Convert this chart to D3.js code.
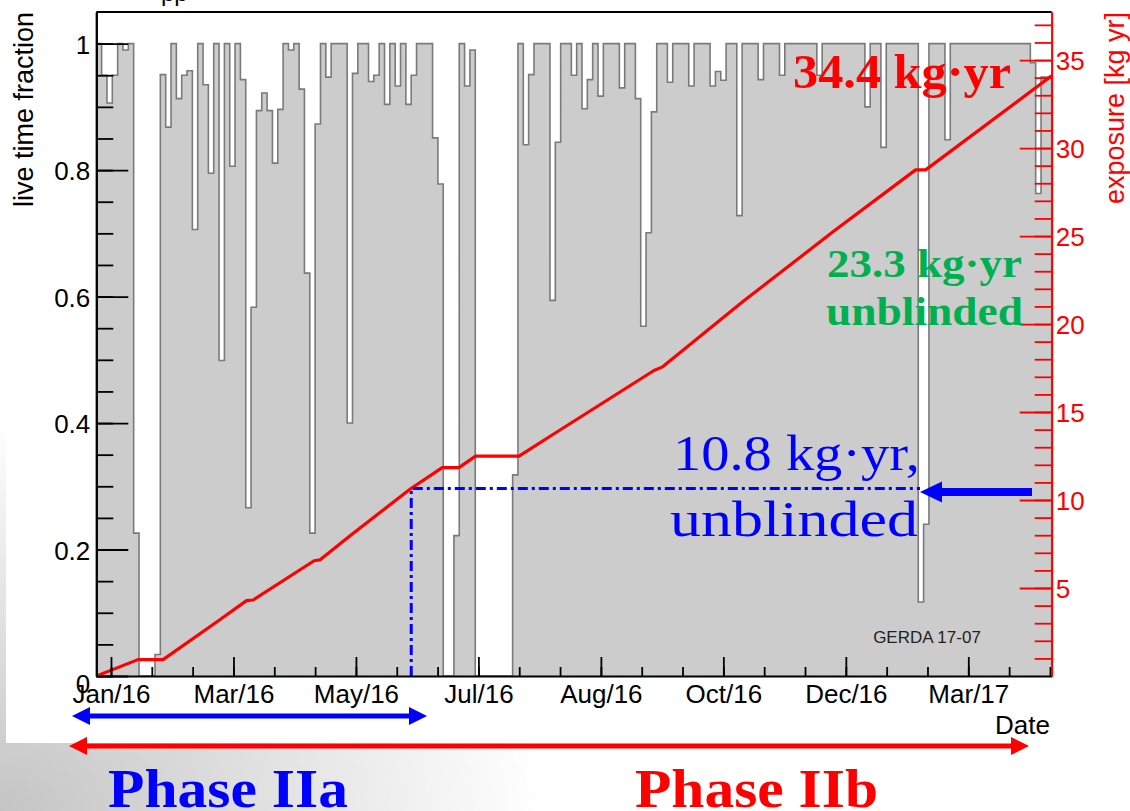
<!DOCTYPE html>
<html>
<head>
<meta charset="utf-8">
<script src="https://cdn.jsdelivr.net/npm/d3@7"></script>
<style>
	body { margin: 0; background: #fff; }
	svg { display: block; }
	text { font-family: "Liberation Sans", Arial, Helvetica, sans-serif; }
	.serif { font-family: "Liberation Serif", "Times New Roman", serif; }
</style>
</head>
<body>
<div id="chart"></div>
<script>
// canvas size
const svgWidth = 1130
const svgHeight = 811

// plot frame (ROOT pad)
let frame = { left: 96.3, right: 1051.7, top: 12, bottom: 676 }

// live time fraction, one value per bin, bins of equal width
const binStart = -7.3      // days relative to 1 Jan 2016
const binDays = 2.654
const liveFraction = [
	1.0, 0.95, 0.906, 0.95, 1.0, 0.99, 1.0, 0.226, 0, 0,
	0, 0.034, 0.951, 0.868, 1.0, 0.913, 0.95, 0.957, 0.706, 1.0,
	0.935, 0.795, 1.0, 0.499, 1.0, 0.806, 1.0, 0.943, 0.266, 0.583,
	0.894, 0.922, 0.894, 0.811, 0.896, 1.0, 0.99, 1.0, 0.928, 0.637,
	0.226, 0.873, 1.0, 0.947, 1.0, 1.0, 1.0, 0.4, 0.953, 1.0,
	1.0, 0.94, 0.95, 1.0, 0.904, 1.0, 0.933, 1.0, 0.904, 0.95,
	1.0, 1.0, 1.0, 0.851, 0.778, 0, 0, 0.222, 1.0, 0.933,
	0.99, 0, 0, 0, 0, 0, 0, 0, 0.318, 1.0,
	0.84, 0.951, 1.0, 1.0, 1.0, 0.594, 0.844, 1.0, 1.0, 0.95,
	1.0, 0.897, 0.943, 1.0, 0.917, 1.0, 1.0, 1.0, 0.93, 1.0,
	1.0, 0.913, 0.553, 0.701, 0.892, 1.0, 1.0, 0.939, 1.0, 1.0,
	1.0, 0.933, 1.0, 1.0, 1.0, 0.933, 0.956, 0.942, 1.0, 1.0,
	0.728, 1.0, 1.0, 1.0, 0.943, 1.0, 1.0, 1.0, 0.95, 1.0,
	1.0, 1.0, 1.0, 1.0, 1.0, 0.95, 1.0, 1.0, 1.0, 1.0,
	1.0, 1.0, 1.0, 1.0, 0.9, 1.0, 1.0, 0.836, 1.0, 1.0,
	1.0, 1.0, 1.0, 1.0, 0.117, 0.24, 1.0, 1.0, 1.0, 0.848,
	1.0, 1.0, 1.0, 1.0, 1.0, 1.0, 1.0, 1.0, 1.0, 1.0,
	1.0, 1.0, 1.0, 1.0, 1.0, 0.97, 0.763, 0.947, 0.947
]

// cumulative exposure [kg yr] (red curve)
const exposureDays = [-7.3, 13.4, 25.9, 52.9, 67.4, 70.7, 101, 104, 119.2, 149.0, 164.7, 173.0,
	181.3, 202.9, 221.9, 270.0, 274.0, 314.7, 359.5, 400.1, 405.1, 467.7]
const exposureValues = [0, 0.93, 0.93, 3.1, 4.28, 4.32, 6.55, 6.6, 8.0, 10.64, 11.84, 11.84,
	12.49, 12.49, 13.88, 17.36, 17.55, 21.32, 25.28, 28.76, 28.76, 34.1]

// axis ticks
const dateTickDays = [0, 60.9, 121.8, 182.7, 243.6, 304.5, 365.4, 426.3]
const dateTickLabels = ["Jan/16", "Mar/16", "May/16", "Jul/16", "Aug/16", "Oct/16", "Dec/16", "Mar/17"]
const fractionTicks = [0, 0.2, 0.4, 0.6, 0.8, 1]
const fractionTickLabels = ["0", "0.2", "0.4", "0.6", "0.8", "1"]
const exposureTicks = [5, 10, 15, 20, 25, 30, 35]

// unblinded Phase IIa point
const unblindDay = 149.3
const unblindExposure = 10.65

let svg = d3.select("#chart")
	.append("svg")
	.attr("width", svgWidth)
	.attr("height", svgHeight)

// slide background with grey corner, white ROOT canvas on top
let defs = svg.append("defs")
let bg = defs.append("radialGradient")
	.attr("id", "slideBg")
	.attr("cx", 0).attr("cy", 1).attr("r", 0.48)
bg.append("stop").attr("offset", "0%").attr("stop-color", "#c4c4c4")
bg.append("stop").attr("offset", "100%").attr("stop-color", "#ffffff")

svg.append("rect")
	.attr("width", svgWidth).attr("height", svgHeight)
	.attr("fill", "url(#slideBg)")
svg.append("rect")
	.attr("x", 6).attr("y", 0)
	.attr("width", svgWidth - 6).attr("height", 743)
	.attr("fill", "#fff")

defs.append("clipPath").attr("id", "frameClip")
	.append("rect")
	.attr("x", frame.left).attr("y", frame.top)
	.attr("width", frame.right - frame.left).attr("height", frame.bottom - frame.top)

// scales
let xEnd = binStart + liveFraction.length * binDays
let xScale = d3.scaleLinear().domain([binStart, xEnd]).range([frame.left, frame.right])
let yScale = d3.scaleLinear().domain([0, 1.05]).range([frame.bottom, frame.top])
let yRight = d3.scaleLinear().domain([0, 37.73]).range([frame.bottom, frame.top])

// histogram as step outline
let histPoints = [[binStart, 0]]
liveFraction.forEach((v, i) => histPoints.push([binStart + i * binDays, v]))
histPoints.push([xEnd, liveFraction[liveFraction.length - 1]])
histPoints.push([xEnd, 0])

let plot = svg.append("g").attr("clip-path", "url(#frameClip)")

plot.append("path")
	.datum(histPoints)
	.attr("d", d3.area()
		.curve(d3.curveStepAfter)
		.x(d => xScale(d[0]))
		.y0(yScale(0))
		.y1(d => yScale(d[1])))
	.attr("fill", "#cccccc")

plot.append("path")
	.datum(histPoints)
	.attr("d", d3.line()
		.curve(d3.curveStepAfter)
		.x(d => xScale(d[0]))
		.y(d => yScale(d[1])))
	.attr("fill", "none")
	.attr("stroke", "#7a7a7a")
	.attr("stroke-width", 1.6)

// exposure curve
let exposure = exposureDays.map((d, i) => [d, exposureValues[i]])
plot.append("path")
	.datum(exposure)
	.attr("d", d3.line().x(d => xScale(d[0])).y(d => yRight(d[1])))
	.attr("fill", "none")
	.attr("stroke", "#ff0000")
	.attr("stroke-width", 3.2)
	.attr("stroke-linejoin", "round")

// dash-dot marker of the Phase IIa unblinded exposure
let ux = xScale(unblindDay)
let uy = yRight(unblindExposure)
svg.append("path")
	.attr("d", `M${ux},${frame.bottom} L${ux},${uy} L920,${uy}`)
	.attr("fill", "none")
	.attr("stroke", "#0000ff")
	.attr("stroke-width", 3)
	.attr("stroke-dasharray", "10,4,3,4")

// frame top
svg.append("line")
	.attr("x1", frame.left).attr("x2", frame.right)
	.attr("y1", frame.top).attr("y2", frame.top)
	.attr("stroke", "#000").attr("stroke-width", 1.8)

// left axis (ticks inside, ROOT style)
let leftMinor = svg.append("g")
	.attr("transform", `translate(${frame.left},0)`)
	.call(d3.axisLeft(yScale).tickValues(d3.range(0, 1.001, 0.05)).tickSize(-17).tickSizeOuter(0).tickFormat(""))
let leftAxis = svg.append("g")
	.attr("transform", `translate(${frame.left},0)`)
	.call(d3.axisLeft(yScale).tickValues(fractionTicks).tickSize(-32).tickSizeOuter(0).tickPadding(6)
		.tickFormat((d, i) => fractionTickLabels[i]))
leftAxis.selectAll("text").attr("font-size", 26).attr("dy", "0.38em")
	.attr("font-family", "Liberation Sans, Arial, sans-serif").attr("fill", "#000")
leftAxis.select(".tick text").attr("dy", "0.62em")
svg.selectAll(".domain").attr("stroke-width", 2)
leftMinor.selectAll("line").attr("stroke-width", 1.8)
leftAxis.selectAll("line").attr("stroke-width", 1.8)

// bottom axis
let minorDays = d3.range(0, xEnd, dateTickDays[1] / 3)
let bottomMinor = svg.append("g")
	.attr("transform", `translate(0,${frame.bottom})`)
	.call(d3.axisBottom(xScale).tickValues(minorDays).tickSize(-9).tickSizeOuter(0).tickFormat(""))
let bottomAxis = svg.append("g")
	.attr("transform", `translate(0,${frame.bottom})`)
	.call(d3.axisBottom(xScale).tickValues(dateTickDays).tickSize(-19).tickSizeOuter(0).tickPadding(8)
		.tickFormat((d, i) => dateTickLabels[i]))
bottomAxis.selectAll("text").attr("font-size", 26).attr("dy", "0.72em")
	.attr("font-family", "Liberation Sans, Arial, sans-serif").attr("fill", "#000")
bottomAxis.selectAll("line").attr("stroke-width", 1.8)
bottomMinor.selectAll("line").attr("stroke-width", 1.8)
bottomAxis.select(".domain").attr("stroke-width", 2.2)

// right axis (red)
let rightMinor = svg.append("g")
	.attr("transform", `translate(${frame.right},0)`)
	.call(d3.axisRight(yRight).tickValues(d3.range(1, 38, 1)).tickSize(-17).tickSizeOuter(0).tickFormat(""))
let rightAxis = svg.append("g")
	.attr("transform", `translate(${frame.right},0)`)
	.call(d3.axisRight(yRight).tickValues(exposureTicks).tickSize(-32).tickSizeOuter(0).tickPadding(4))
rightAxis.selectAll("text").attr("font-size", 26).attr("dy", "0.38em")
	.attr("font-family", "Liberation Sans, Arial, sans-serif").attr("fill", "#ff0000")
rightAxis.selectAll("line, .domain").attr("stroke", "#ff0000").attr("stroke-width", 1.8)
rightMinor.selectAll("line, .domain").attr("stroke", "#ff0000").attr("stroke-width", 1.8)

// axis titles
svg.append("text")
	.attr("transform", `translate(33,${frame.top}) rotate(-90)`)
	.attr("text-anchor", "end")
	.attr("font-size", 27)
	.text("live time fraction")
svg.append("text")
	.attr("transform", `translate(1124,${frame.top}) rotate(-90)`)
	.attr("text-anchor", "end")
	.attr("font-size", 27)
	.attr("fill", "#ff0000")
	.text("exposure [kg yr]")
svg.append("text")
	.attr("x", 1050).attr("y", 734)
	.attr("text-anchor", "end")
	.attr("font-size", 26)
	.text("Date")

// cut title on top
svg.append("text")
	.attr("x", 161).attr("y", 1)
	.attr("font-size", 24)
	.text("pp")

svg.append("text")
	.attr("x", 927).attr("y", 643)
	.attr("text-anchor", "middle")
	.attr("font-size", 17)
	.attr("fill", "#222")
	.text("GERDA 17-07")

// annotations
function label(x, y, txt, size, weight, color, len) {
	svg.append("text")
		.classed("serif", true)
		.attr("x", x).attr("y", y)
		.attr("font-size", size)
		.attr("font-weight", weight)
		.attr("fill", color)
		.attr("textLength", len)
		.attr("lengthAdjust", "spacingAndGlyphs")
		.text(txt)
}
label(793, 88, "34.4 kg·yr", 48, "bold", "#ff0000", 218)
label(827, 277, "23.3 kg·yr", 41, "bold", "#00b050", 195)
label(826, 325, "unblinded", 41, "bold", "#00b050", 197)
label(673, 470, "10.8 kg·yr,", 50, "normal", "#0000ff", 247)
label(670, 536, "unblinded", 50, "normal", "#0000ff", 248)
label(108, 807, "Phase IIa", 55, "bold", "#0000ff", 240)
label(635, 807, "Phase IIb", 55, "bold", "#ff0000", 243)

// arrows
function arrow(x1, x2, y, color, width, headLen, headHalf, both) {
	let g = svg.append("g")
	g.append("line")
		.attr("x1", both ? x1 + headLen - 2 : x1 + headLen - 2).attr("x2", both ? x2 - headLen + 2 : x2)
		.attr("y1", y).attr("y2", y)
		.attr("stroke", color).attr("stroke-width", width)
	g.append("path")
		.attr("d", `M${x1},${y} L${x1 + headLen},${y - headHalf} L${x1 + headLen},${y + headHalf} Z`)
		.attr("fill", color)
	if (both) {
		g.append("path")
			.attr("d", `M${x2},${y} L${x2 - headLen},${y - headHalf} L${x2 - headLen},${y + headHalf} Z`)
			.attr("fill", color)
	}
}
arrow(72, 427, 716, "#0000ff", 5, 18, 9, true)
arrow(69, 1029, 746, "#ff0000", 5, 18, 9, true)
arrow(920, 1032, 492, "#0000ff", 8, 22, 10.5, false)
</script>
</body>
</html>
